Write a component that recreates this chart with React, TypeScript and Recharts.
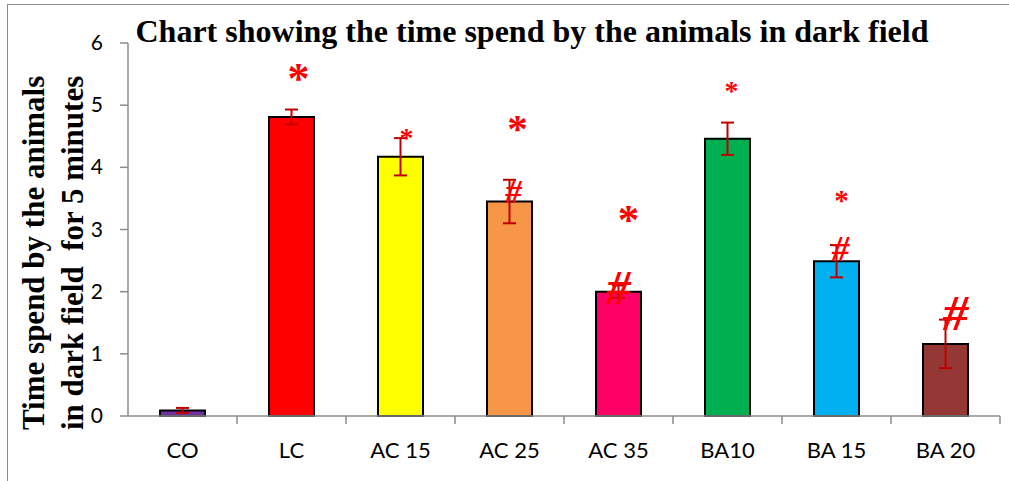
import React from 'react';
import { ComposedChart, Bar, Cell, ErrorBar, XAxis, YAxis, ReferenceDot } from 'recharts';

// values
const categories = ['CO', 'LC', 'AC 15', 'AC 25', 'AC 35', 'BA10', 'BA 15', 'BA 20'];
const meanTime = [0.09, 4.81, 4.17, 3.45, 2.0, 4.46, 2.49, 1.16];
const semTime = [0.04, 0.12, 0.3, 0.35, 0.1, 0.26, 0.26, 0.39];
const yTicks = [0, 1, 2, 3, 4, 5, 6];

// significance marks: category + level where the sign sits
const starMarks = [
  { name: 'LC', y: 5.53 },
  { name: 'AC 15', y: 4.54 },
  { name: 'AC 25', y: 4.72 },
  { name: 'AC 35', y: 3.26 },
  { name: 'BA10', y: 5.29 },
  { name: 'BA 15', y: 3.54 },
];
const hashMarks = [
  { name: 'AC 25', y: 3.6 },
  { name: 'AC 35', y: 2.06 },
  { name: 'BA 15', y: 2.68 },
  { name: 'BA 20', y: 1.66 },
];

const barColors: Record<string, string> = {
  CO: '#7030A0',
  LC: '#FF0000',
  'AC 15': '#FFFF00',
  'AC 25': '#F79646',
  'AC 35': '#FF0066',
  BA10: '#00B050',
  'BA 15': '#00B0F0',
  'BA 20': '#953735',
};

const starStyle: Record<string, { size: number; dx: number }> = {
  LC: { size: 44, dx: 7 },
  'AC 15': { size: 28, dx: 6 },
  'AC 25': { size: 41, dx: 8 },
  'AC 35': { size: 43, dx: 10 },
  BA10: { size: 28, dx: 4 },
  'BA 15': { size: 29, dx: 5 },
};
const hashStyle: Record<string, { size: number; dx: number }> = {
  'AC 25': { size: 33, dx: 4 },
  'AC 35': { size: 48, dx: 0 },
  'BA 15': { size: 35, dx: 4 },
  'BA 20': { size: 51, dx: 10 },
};

const data = categories.map((name, i) => ({ name, time: meanTime[i], err: semTime[i] }));

const W = 1009;
const H = 481;
const MARGIN = { top: 43, right: 9, left: 80, bottom: 64 };
const Y_AXIS_W = 48;
const BAND = (W - MARGIN.left - MARGIN.right - Y_AXIS_W) / categories.length;

const AXIS = '#8c8c8c';
const SERIF = '"Liberation Serif", "Times New Roman", serif';
const SANS = 'Lato, Carlito, Calibri, sans-serif';

// category label plus a tick mark on the right edge of the category band
const CategoryTick = (props: any) => {
  const { x, y, payload } = props;
  return (
    <g>
      <line x1={x + BAND / 2} x2={x + BAND / 2} y1={y} y2={y + 8} stroke={AXIS} strokeWidth={1.5} />
      <text x={x} y={y + 42} textAnchor="middle" fill="#000" fontFamily={SANS} fontSize={22}>
        {payload.value}
      </text>
    </g>
  );
};

const YTick = (props: any) => {
  const { x, y, payload } = props;
  return (
    <text x={x} y={y + 7} textAnchor="end" fill="#000" fontFamily={SANS} fontSize={21}>
      {payload.value}
    </text>
  );
};

const signShape = (sign: string, style: { size: number; dx: number }) => (props: any) => {
  const k = sign === '*' ? 0.47 : 0.34;
  return (
    <text
      x={props.cx + style.dx}
      y={props.cy + k * style.size}
      textAnchor="middle"
      fill="#FF0000"
      fontFamily={SERIF}
      fontWeight="bold"
      fontStyle={sign === '#' ? 'italic' : 'normal'}
      fontSize={style.size}
    >
      {sign}
    </text>
  );
};

export default function App() {
  return (
    <div style={{ position: 'absolute', left: 0, top: 0, width: W, height: H, background: '#fff', overflow: 'hidden' }}>
      <div
        style={{
          position: 'absolute',
          left: 7,
          top: 4,
          width: 1010,
          height: 480,
          border: `1px solid ${AXIS}`,
          boxSizing: 'border-box',
        }}
      />
      <div style={{ position: 'absolute', left: 0, top: 0 }}>
        <ComposedChart width={W} height={H} data={data} margin={MARGIN}>
          <XAxis
            dataKey="name"
            axisLine={{ stroke: AXIS, strokeWidth: 1.5 }}
            tickLine={false}
            tickSize={0}
            tickMargin={0}
            height={1}
            interval={0}
            tick={<CategoryTick />}
          />
          <YAxis
            domain={[0, 6]}
            ticks={yTicks}
            width={Y_AXIS_W}
            axisLine={{ stroke: AXIS, strokeWidth: 1.5 }}
            tickLine={{ stroke: AXIS, strokeWidth: 1.5 }}
            tickSize={8}
            tickMargin={17}
            tick={<YTick />}
          />
          <Bar dataKey="time" barSize={45} stroke="#000" strokeWidth={2} isAnimationActive={false}>
            {data.map((d) => (
              <Cell key={d.name} fill={barColors[d.name]} />
            ))}
            <ErrorBar dataKey="err" width={6.5} stroke="#C00000" strokeWidth={2} isAnimationActive={false} />
          </Bar>
          {starMarks.map((m) => (
            <ReferenceDot
              key={`star-${m.name}`}
              x={m.name}
              y={m.y}
              r={0}
              ifOverflow="visible"
              shape={signShape('*', starStyle[m.name])}
            />
          ))}
          {hashMarks.map((m) => (
            <ReferenceDot
              key={`hash-${m.name}`}
              x={m.name}
              y={m.y}
              r={0}
              ifOverflow="visible"
              shape={signShape('#', hashStyle[m.name])}
            />
          ))}
        </ComposedChart>
      </div>
      <svg width={W} height={H} style={{ position: 'absolute', left: 0, top: 0, pointerEvents: 'none' }}>
        <text x={532} y={42} textAnchor="middle" fontFamily={SERIF} fontWeight="bold" fontSize={32} fill="#000">
          Chart showing the time spend by the animals in dark field
        </text>
        <text
          transform="translate(44, 430) rotate(-90)"
          textAnchor="start"
          fontFamily={SERIF}
          fontWeight="bold"
          fontSize={31}
          fill="#000"
        >
          Time spend by the animals
        </text>
        <text
          transform="translate(83, 430) rotate(-90)"
          textAnchor="start"
          fontFamily={SERIF}
          fontWeight="bold"
          fontSize={31}
          fill="#000"
          style={{ whiteSpace: 'pre' }}
        >
          in dark field  for 5 minutes
        </text>
      </svg>
    </div>
  );
}
